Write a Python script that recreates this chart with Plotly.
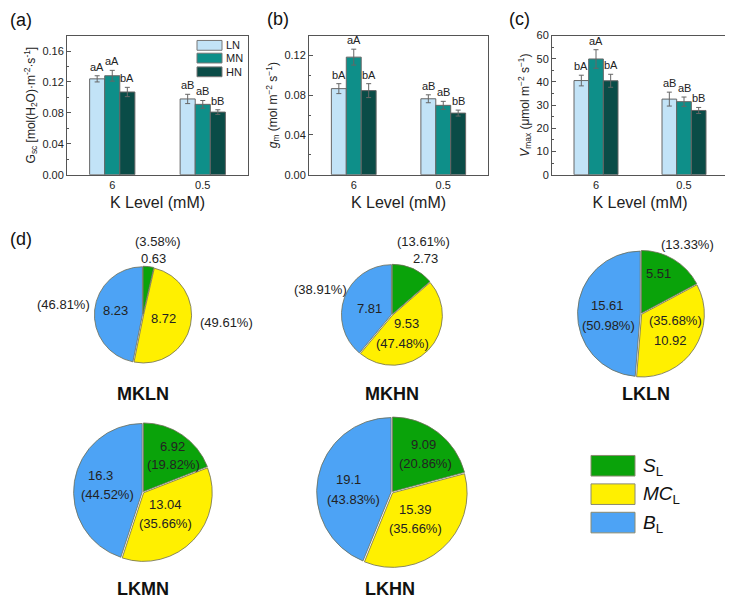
import plotly.graph_objects as go

W, H = 733, 606
OFF = 8  # page body margin of the html page
FW, FH = W - OFF, H - OFF
def px(x): return min(max((x - OFF) / FW, 0.0), 1.0)
def py(y): return min(max(1 - (y - OFF) / FH, 0.0), 1.0)

# ---------------- data ----------------
k_levels = ["6", "0.5"]
n_levels = ["LN", "MN", "HN"]

gsc_mean = {"LN": [0.124, 0.098], "MN": [0.128, 0.091], "HN": [0.107, 0.081]}
gsc_err = {"LN": [0.004, 0.006], "MN": [0.007, 0.005], "HN": [0.006, 0.003]}
gsc_sig = {"LN": ["aA", "aB"], "MN": ["aA", "aB"], "HN": ["bA", "bB"]}

gm_mean = {"LN": [0.0866, 0.0764], "MN": [0.1183, 0.0698], "HN": [0.0846, 0.062]}
gm_err = {"LN": [0.005, 0.004], "MN": [0.008, 0.004], "HN": [0.007, 0.003]}
gm_sig = {"LN": ["bA", "aB"], "MN": ["aA", "aB"], "HN": ["bA", "bB"]}

vmax_mean = {"LN": [40.6, 32.6], "MN": [49.9, 31.5], "HN": [40.5, 27.7]}
vmax_err = {"LN": [2.3, 3.0], "MN": [4.0, 2.0], "HN": [2.8, 1.3]}
vmax_sig = {"LN": ["bA", "aB"], "MN": ["aA", "aB"], "HN": ["bA", "bB"]}

pie_parts = ["S<sub>L</sub>", "MC<sub>L</sub>", "B<sub>L</sub>"]
pie_names = ["MKLN", "MKHN", "LKLN", "LKMN", "LKHN"]
pie_values = {
    "MKLN": [0.63, 8.72, 8.23],
    "MKHN": [2.73, 9.53, 7.81],
    "LKLN": [5.51, 10.92, 15.61],
    "LKMN": [6.92, 13.04, 16.3],
    "LKHN": [9.09, 15.39, 19.1],
}
pie_pct = {
    "MKLN": ["(3.58%)", "(49.61%)", "(46.81%)"],
    "MKHN": ["(13.61%)", "(47.48%)", "(38.91%)"],
    "LKLN": ["(13.33%)", "(35.68%)", "(50.98%)"],
    "LKMN": ["(19.82%)", "(35.66%)", "(44.52%)"],
    "LKHN": ["(20.86%)", "(35.66%)", "(43.83%)"],
}

# ---------------- styles ----------------
bar_colors = {"LN": "#C2E3F7", "MN": "#0E8F89", "HN": "#0A4C47"}
pie_colors = ["#0AA30A", "#FFF000", "#4DA3F5"]
FONT = "Liberation Sans, Arial, sans-serif"
AX = "#555555"

fig = go.Figure()

panels = [
    ("x", "y", gsc_mean, gsc_err, gsc_sig, [67, 248], [0, 0.18], 0.04,
     "G<sub>sc</sub> [mol(H<sub>2</sub>O)·m<sup>-2</sup>·s<sup>-1</sup>]", ".2f"),
    ("x2", "y2", gm_mean, gm_err, gm_sig, [309, 488], [0, 0.14], 0.04,
     "<i>g</i><sub>m</sub> (mol m<sup>−2</sup> s<sup>−1</sup>)", ".2f"),
    ("x3", "y3", vmax_mean, vmax_err, vmax_sig, [552, 728], [0, 60], 10,
     "<i>V</i><sub>max</sub> (μmol m<sup>−2</sup> s<sup>−1</sup>)", "d"),
]

annotations = []
shapes = []
for i, (xa, ya, mean, err, sig, dom, yr, dt, ytitle, fmt) in enumerate(panels):
    for j, n in enumerate(n_levels):
        fig.add_trace(go.Bar(
            x=k_levels, y=mean[n], name=n, xaxis=xa, yaxis=ya,
            marker=dict(color=bar_colors[n], line=dict(color="#666666", width=1)),
            error_y=dict(type="data", array=err[n], color="#666666", thickness=1, width=2.5),
            showlegend=False,
        ))
        off = (j - 1) / 6
        for k in range(len(k_levels)):
            annotations.append(dict(
                x=k + off, y=mean[n][k] + err[n][k], xref=xa, yref=ya,
                text=sig[n][k], showarrow=False, xanchor="center", yanchor="bottom", yshift=1,
                font=dict(size=11, family=FONT, color="#222")))
    sfx = "" if i == 0 else str(i + 1)
    fig.layout["xaxis" + sfx] = dict(
        domain=[px(dom[0]), px(dom[1])], anchor=ya, type="category",
        range=[-0.5, 1.5], showline=True, mirror=True, linecolor=AX, linewidth=1,
        ticks="", tickfont=dict(size=11, family=FONT, color="#222"),
        title=dict(text="K Level (mM)", font=dict(size=16, family=FONT, color="#222"), standoff=6),
        showgrid=False, zeroline=False, fixedrange=True)
    fig.layout["yaxis" + sfx] = dict(
        domain=[py(172), py(30)], anchor=xa, range=yr, dtick=dt, tickformat=fmt,
        showline=True, mirror=True, linecolor=AX, linewidth=1,
        ticks="inside", ticklen=4, tickcolor=AX,
        minor=dict(ticks="inside", ticklen=2, tickcolor=AX, dtick=dt / 2),
        tickfont=dict(size=11, family=FONT, color="#222"),
        title=dict(text=ytitle, font=dict(size=12, family=FONT, color="#222"), standoff=4),
        showgrid=False, zeroline=False)

fig.update_layout(barmode="group", bargap=0.5, bargroupgap=0)

# bar legend (panel a)
leg_rows = [40, 53, 67]
for n, yc in zip(n_levels, leg_rows):
    shapes.append(dict(type="rect", xref="paper", yref="paper",
                       x0=px(197), x1=px(222), y0=py(yc + 5), y1=py(yc - 5),
                       fillcolor=bar_colors[n], line=dict(color="#777", width=1)))
    annotations.append(dict(x=px(224), y=py(yc), xref="paper", yref="paper", text=n,
                            showarrow=False, xanchor="left", yanchor="middle",
                            font=dict(size=11, family=FONT, color="#222")))

# panel labels
for lab, xx, yy, anc in [("(a)", 8, 14, "left"), ("(b)", 278, 13, "center"),
                         ("(c)", 520, 13, "center"), ("(d)", 8, 238, "left")]:
    annotations.append(dict(x=px(xx), y=py(yy), xref="paper", yref="paper", text=lab,
                            showarrow=False, xanchor=anc, yanchor="middle",
                            font=dict(size=18, family=FONT, color="#111")))

# ---------------- pies ----------------
pull = 0.012
pie_geom = {  # centre x, centre y, radius (pixels)
    "MKLN": (143, 315, 49),
    "MKHN": (392, 315, 51),
    "LKLN": (641, 314, 64),
    "LKMN": (143, 496, 70),
    "LKHN": (392, 496, 76),
}
for name in pie_names:
    cx, cy, r = pie_geom[name]
    rr = r * (1 + pull)
    fig.add_trace(go.Pie(
        values=pie_values[name], labels=pie_parts, sort=False, direction="clockwise",
        rotation=0, textinfo="none", hoverinfo="label+value", showlegend=False,
        pull=pull, marker=dict(colors=pie_colors, line=dict(color="#6d6d55", width=0.8)),
        domain=dict(x=[px(cx - rr), px(cx + rr)], y=[py(cy + rr), py(cy - rr)]),
    ))

title_pos = {"MKLN": (143, 396), "MKHN": (392, 396), "LKLN": (646, 396),
             "LKMN": (143, 595), "LKHN": (390, 595)}
for name in pie_names:
    tx, ty = title_pos[name]
    annotations.append(dict(x=px(tx), y=py(ty), xref="paper", yref="paper",
                            text="<b>%s</b>" % name, showarrow=False,
                            xanchor="center", yanchor="middle",
                            font=dict(size=18, family=FONT, color="#111")))

# label placement per pie: (slice index, 'v' value or 'p' percent, x, y)
label_pos = {
    "MKLN": [(0, "p", 158, 240), (0, "v", 153, 257), (2, "p", 63, 304), (2, "v", 115, 311),
             (1, "v", 163, 319), (1, "p", 226, 323)],
    "MKHN": [(0, "p", 423, 240), (0, "v", 425, 258), (2, "p", 320, 289), (2, "v", 369, 309),
             (1, "v", 407, 324), (1, "p", 402, 344)],
    "LKLN": [(0, "p", 687, 243), (0, "v", 658, 273), (2, "v", 607, 305), (2, "p", 608, 326),
             (1, "p", 675, 321), (1, "v", 670, 341)],
    "LKMN": [(0, "v", 172, 449), (0, "p", 173, 468), (2, "v", 100, 479), (2, "p", 107, 498),
             (1, "v", 165, 509), (1, "p", 165, 528)],
    "LKHN": [(0, "v", 423, 447), (0, "p", 425, 467), (2, "v", 348, 483), (2, "p", 353, 503),
             (1, "v", 415, 514), (1, "p", 415, 533)],
}
for name in pie_names:
    for si, kind, lx, ly in label_pos[name]:
        txt = ("%g" % pie_values[name][si]) if kind == "v" else pie_pct[name][si]
        annotations.append(dict(x=px(lx), y=py(ly), xref="paper", yref="paper", text=txt,
                                showarrow=False, xanchor="center", yanchor="middle",
                                font=dict(size=13, family=FONT, color="#222")))

# pie legend
pl_rows = [469, 498, 527]
pl_text = ["<i>S</i><sub>L</sub>", "<i>MC</i><sub>L</sub>", "<i>B</i><sub>L</sub>"]
for col, yc, t in zip(pie_colors, pl_rows, pl_text):
    shapes.append(dict(type="rect", xref="paper", yref="paper",
                       x0=px(591), x1=px(635), y0=py(yc + 10.5), y1=py(yc - 10.5),
                       fillcolor=col, line=dict(color="#8a8a70", width=1)))
    annotations.append(dict(x=px(641), y=py(yc + 1), xref="paper", yref="paper", text=t,
                            showarrow=False, xanchor="left", yanchor="middle",
                            font=dict(size=19, family=FONT, color="#111")))

fig.update_layout(
    width=FW, height=FH, margin=dict(l=0, r=0, t=0, b=0),
    paper_bgcolor="white", plot_bgcolor="white",
    annotations=annotations, shapes=shapes,
    font=dict(family=FONT),
)

fig.write_html("out.html")
